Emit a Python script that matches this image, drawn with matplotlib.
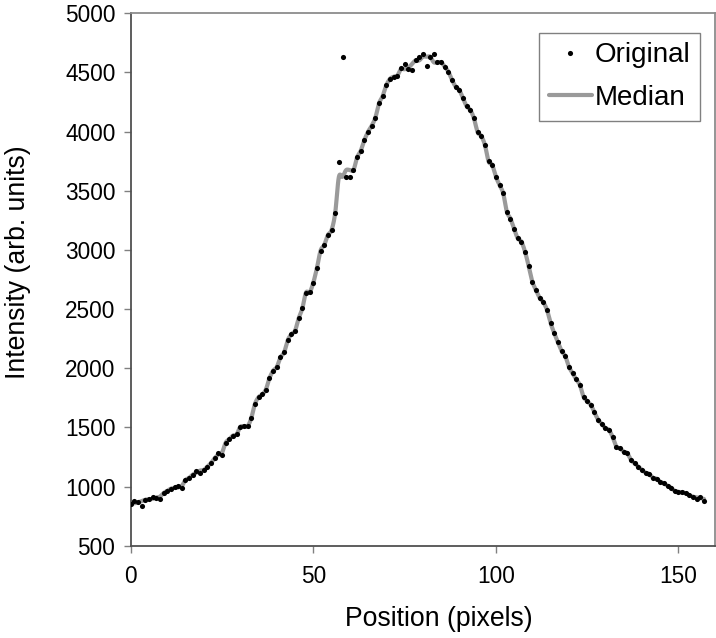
import numpy as np
import matplotlib
matplotlib.use("Agg")
import matplotlib.pyplot as plt

plt.rcParams['font.family'] = ['Liberation Sans', 'DejaVu Sans']

# Data
position = list(range(158))
original = [
    852, 877, 866, 837, 889, 892, 915, 907, 896, 945,
    963, 982, 993, 1006, 988, 1055, 1073, 1101, 1135, 1117,
    1140, 1168, 1199, 1240, 1286, 1270, 1371, 1400, 1431, 1440,
    1504, 1510, 1510, 1577, 1696, 1755, 1778, 1819, 1916, 1979,
    2010, 2092, 2133, 2236, 2288, 2317, 2422, 2506, 2640, 2641,
    2723, 2848, 2995, 3042, 3126, 3168, 3313, 3741, 4633, 3616,
    3618, 3675, 3782, 3839, 3929, 3999, 4050, 4118, 4239, 4301,
    4392, 4446, 4464, 4473, 4540, 4570, 4527, 4522, 4602, 4633,
    4655, 4556, 4633, 4656, 4585, 4586, 4549, 4506, 4436, 4379,
    4351, 4281, 4214, 4183, 4112, 3995, 3963, 3886, 3748, 3718,
    3619, 3548, 3479, 3323, 3264, 3178, 3097, 3069, 2983, 2861,
    2730, 2661, 2594, 2558, 2492, 2380, 2295, 2218, 2145, 2103,
    2013, 1957, 1906, 1858, 1759, 1722, 1689, 1626, 1565, 1529,
    1492, 1478, 1416, 1337, 1323, 1295, 1281, 1224, 1196, 1168,
    1140, 1117, 1106, 1075, 1066, 1041, 1027, 1007, 990, 962,
    951, 956, 943, 926, 909, 895, 914, 880,
]
median_window = 5
x_ticks = [0, 50, 100, 150]
y_ticks = [500, 1000, 1500, 2000, 2500, 3000, 3500, 4000, 4500, 5000]

# Running median of the original data
orig = np.array(original, dtype=float)
half = median_window // 2
median = np.array([np.median(orig[max(0, i - half):i + half + 1]) for i in range(len(orig))])


def smooth_curve(x, y, n=8):
    """Catmull-Rom spline through the points (like a spreadsheet 'smoothed line')."""
    x = np.asarray(x, float)
    y = np.asarray(y, float)
    px = np.concatenate([[2 * x[0] - x[1]], x, [2 * x[-1] - x[-2]]])
    py = np.concatenate([[2 * y[0] - y[1]], y, [2 * y[-1] - y[-2]]])
    xs, ys = [], []
    t = np.linspace(0, 1, n, endpoint=False)
    for i in range(1, len(px) - 2):
        for P, out in ((px, xs), (py, ys)):
            p0, p1, p2, p3 = P[i - 1], P[i], P[i + 1], P[i + 2]
            out.extend(0.5 * (2 * p1 + (-p0 + p2) * t + (2 * p0 - 5 * p1 + 4 * p2 - p3) * t ** 2
                              + (-p0 + 3 * p1 - 3 * p2 + p3) * t ** 3))
    xs.append(x[-1])
    ys.append(y[-1])
    return np.array(xs), np.array(ys)


W, H = 716, 638
fig = plt.figure(figsize=(W / 100, H / 100), dpi=100)
ax = fig.add_axes([130.7 / W, 1 - 545.7 / H, (715 - 130.7) / W, (545.7 - 13.3) / H])

sx, sy = smooth_curve(position, median)
ax.plot(sx, sy, color='#9a9a9a', lw=3.0, solid_capstyle='round', zorder=2, label='Median')
ax.plot(position, original, ls='none', marker='o', ms=3.7, color='black', mew=0, zorder=3, label='Original')

ax.set_xlim(0, 160)
ax.set_ylim(500, 5000)
ax.set_xticks(x_ticks)
ax.set_yticks(y_ticks)
ax.tick_params(direction='out', length=5, width=1, color='#808080', labelsize=16.3)
ax.tick_params(axis='x', pad=9)
ax.tick_params(axis='y', pad=6)

for side in ['left', 'bottom']:
    ax.spines[side].set_color('#505050')
    ax.spines[side].set_linewidth(1.3)
for side in ['top', 'right']:
    ax.spines[side].set_color('#8c8c8c')
    ax.spines[side].set_linewidth(1.3)

fig.text(438.7 / W, 1 - 619 / H, 'Position (pixels)', ha='center', va='center', fontsize=19.2)
fig.text(18 / W, 1 - 262 / H, 'Intensity (arb. units)', ha='center', va='center', fontsize=19.2, rotation=90)

handles, labels = ax.get_legend_handles_labels()
leg = ax.legend([handles[1], handles[0]], [labels[1], labels[0]],
                loc='upper left', bbox_to_anchor=(539 / W, 1 - 32.7 / H), bbox_transform=fig.transFigure,
                fontsize=20, frameon=True, fancybox=False, framealpha=1, edgecolor='#808080',
                handlelength=1.55, handletextpad=0.1, borderpad=0.35, labelspacing=0.6,
                borderaxespad=0, numpoints=1)
leg.get_frame().set_linewidth(1.0)

fig.savefig('out.png', dpi=100)
